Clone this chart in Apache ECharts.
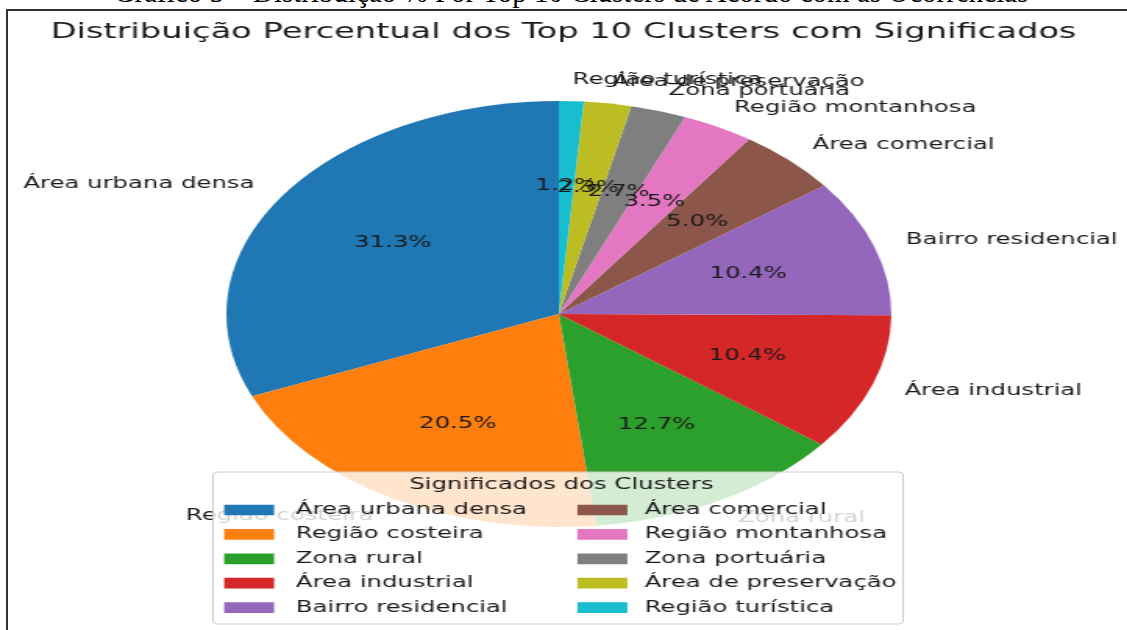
<!DOCTYPE html>
<html>
<head>
<meta charset="utf-8">
<script src="https://cdn.jsdelivr.net/npm/echarts@6.0.0/dist/echarts.min.js"></script>
<style>
html, body { margin: 0; padding: 0; background: #fff; overflow: hidden; }
body { width: 1127px; height: 630px; position: relative; }
#caption {
    position: absolute; left: 0; top: -22px; width: 1142px;
    text-align: center; white-space: nowrap;
    font-family: 'Liberation Serif', 'Times New Roman', serif;
    font-size: 29px; line-height: 1; color: #000;
}
#frame {
    position: absolute; left: 6px; top: 9px; width: 1140px; height: 640px;
    border: 2px solid #333; box-sizing: border-box;
}
/* the reference is stretched sideways, so the chart is drawn narrow and scaled */
#chart {
    position: absolute; left: 0; top: 0; width: 722px; height: 630px;
    transform: scaleX(1.561); transform-origin: 0 0;
}
</style>
</head>
<body>
<div id="caption">Gráfico 5 – Distribuição % Por Top 10 Clusters de Acordo com as Ocorrências</div>
<div id="frame"></div>
<div id="chart"></div>
<script>
const categories = [
    'Área urbana densa', 'Região costeira', 'Zona rural', 'Área industrial', 'Bairro residencial',
    'Área comercial', 'Região montanhosa', 'Zona portuária', 'Área de preservação', 'Região turística'
];
const values = [31.3, 20.5, 12.7, 10.4, 10.4, 5.0, 3.5, 2.7, 2.3, 1.2];
const colors = [
    '#1f77b4', '#ff7f0e', '#2ca02c', '#d62728', '#9467bd',
    '#8c564b', '#e377c2', '#7f7f7f', '#bcbd22', '#17becf'
];
const legendColLeft = categories.slice(0, 5);
const legendColRight = categories.slice(5);

const R = 213;
const center = [358, 314];
const font = 'DejaVu Sans';
const fs = 15.6;

const chart = echarts.init(document.getElementById('chart'));

function legendCol(data, left, gap) {
    return {
        data: data,
        left: left,
        orient: 'vertical',
        top: 502,
        padding: 0,
        itemGap: 24 - fs,
        itemWidth: 32,
        itemHeight: 10.7,
        icon: 'rect',
        selectedMode: false,
        textStyle: { fontFamily: font, fontSize: fs, lineHeight: fs, color: '#1a1a1a', padding: [0, 0, 0, gap] }
    };
}

chart.setOption({
    animation: false,
    textStyle: { fontFamily: font },
    title: {
        text: 'Distribuição Percentual dos Top 10 Clusters com Significados',
        left: 'center',
        top: 21,
        padding: 0,
        textStyle: { fontFamily: font, fontSize: 21.6, fontWeight: 'normal', color: '#1a1a1a' }
    },
    legend: [
        legendCol(legendColLeft, 143.6, 9),
        legendCol(legendColRight, 369.9, 6)
    ],
    graphic: [
        {
            type: 'rect', z: 3,
            shape: { x: 136.5, y: 472, width: 442, height: 152, r: 3 },
            style: { fill: 'rgba(255,255,255,0.8)', stroke: '#cccccc', lineWidth: 1 }
        },
        {
            type: 'text', z: 5, x: 359.6, y: 485,
            style: {
                text: 'Significados dos Clusters', font: fs + 'px "DejaVu Sans"',
                fill: '#1a1a1a', align: 'center', verticalAlign: 'middle'
            }
        }
    ],
    series: [
        {
            type: 'pie',
            center: center,
            radius: R,
            startAngle: 90,
            clockwise: false,
            avoidLabelOverlap: false,
            labelLayout: { hideOverlap: false },
            emphasis: { disabled: true },
            itemStyle: { borderWidth: 0 },
            label: {
                position: 'outside', distanceToLabelLine: 0, fontSize: fs, color: '#1a1a1a',
                padding: [4, 0, 0, 0]
            },
            labelLine: { show: false, length: R * 0.1, length2: 0 },
            data: categories.map((name, i) => ({ name: name, value: values[i], itemStyle: { color: colors[i] } }))
        },
        {
            // percentage labels sit at 0.6 of the radius, as in the source
            type: 'pie',
            center: center,
            radius: [R * 0.2 - 6, R],
            startAngle: 90,
            clockwise: false,
            avoidLabelOverlap: false,
            labelLayout: { hideOverlap: false },
            silent: true,
            itemStyle: { color: 'rgba(0,0,0,0)', borderWidth: 0 },
            label: {
                position: 'inside', fontSize: fs, color: '#1a1a1a', padding: [3, 0, 0, 0],
                formatter: p => p.percent.toFixed(1) + '%'
            },
            labelLine: { show: false },
            data: categories.map((name, i) => ({ name: name, value: values[i] }))
        }
    ]
});
</script>
</body>
</html>
